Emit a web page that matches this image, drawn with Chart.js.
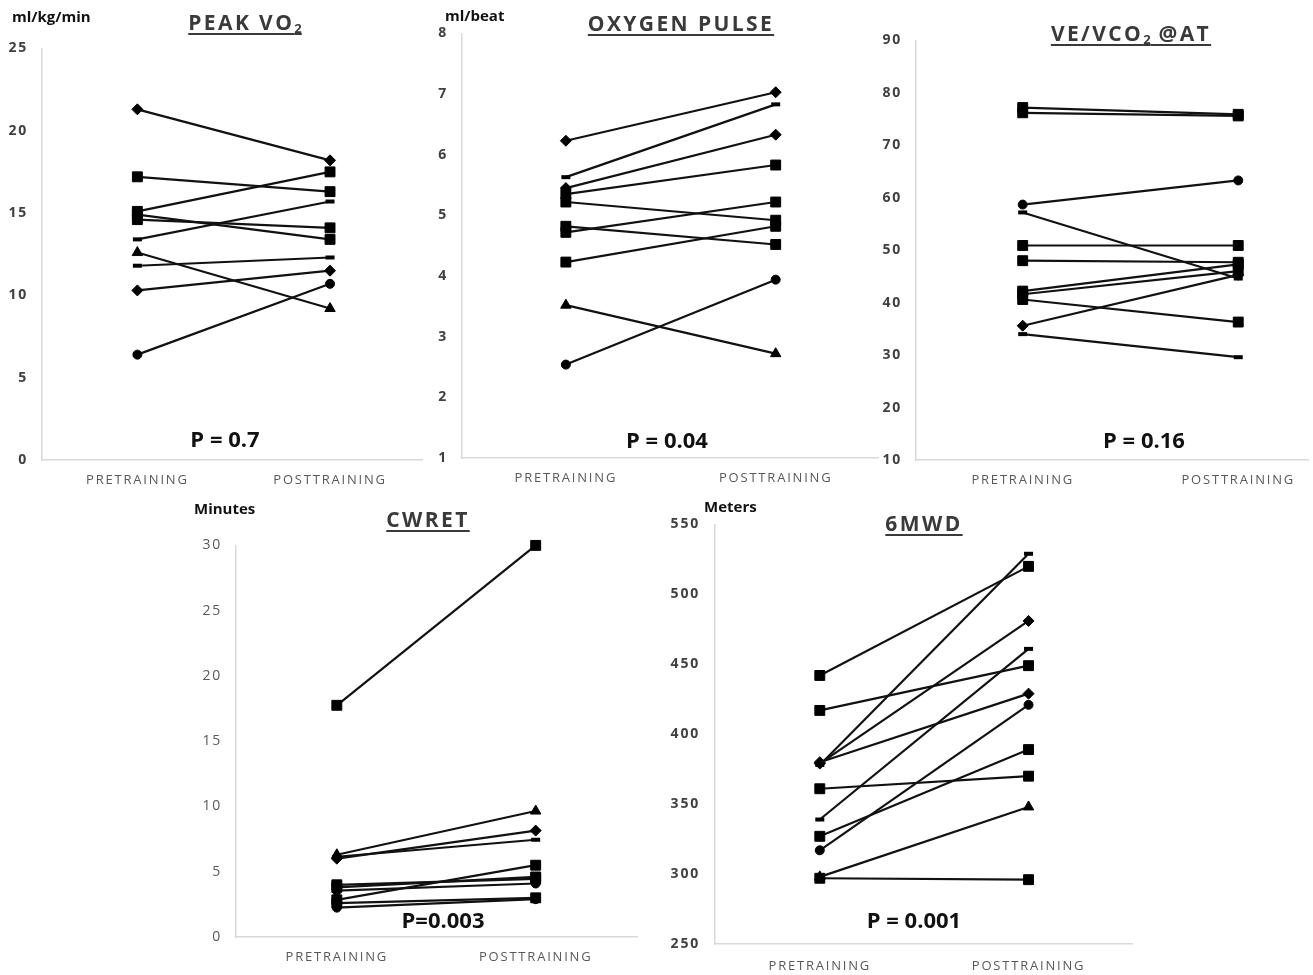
<!DOCTYPE html>
<html>
<head>
<meta charset="utf-8">
<script src="https://cdn.jsdelivr.net/npm/chart.js@4"></script>
<style>
html,body{margin:0;padding:0;background:#fff;overflow:hidden;}
body{width:1313px;height:975px;position:relative;font-family:"Open Sans",sans-serif;}
canvas{position:absolute;}
.title{position:absolute;transform:translateX(-50%);font-weight:700;font-size:21px;letter-spacing:2.4px;color:#3a3a3a;text-decoration:underline;text-decoration-thickness:2px;text-underline-offset:3px;white-space:nowrap;line-height:1;}
.title sub{font-size:13px;position:relative;top:3px;vertical-align:baseline;letter-spacing:0;}
.unit{position:absolute;font-weight:700;font-size:15px;color:#111;white-space:nowrap;line-height:1;}
.pval{position:absolute;transform:translateX(-50%);font-weight:700;font-size:22px;color:#111;white-space:nowrap;line-height:1;}
</style>
</head>
<body>
<canvas id="c1"></canvas>
<canvas id="c2"></canvas>
<canvas id="c3"></canvas>
<canvas id="c4"></canvas>
<canvas id="c5"></canvas>

<div class="title" style="left:245px;top:12px">PEAK VO<sub>2</sub></div>
<div class="title" style="left:681px;top:13px">OXYGEN PULSE</div>
<div class="title" style="left:1131px;top:23px">VE/VCO<sub>2</sub> @AT</div>
<div class="title" style="left:428px;top:509px">CWRET</div>
<div class="title" style="left:924px;top:513px">6MWD</div>

<div class="unit" style="left:12px;top:9px">ml/kg/min</div>
<div class="unit" style="left:445px;top:8px">ml/beat</div>
<div class="unit" style="left:194px;top:501px">Minutes</div>
<div class="unit" style="left:704px;top:499px">Meters</div>

<div class="pval" style="left:225px;top:427px">P = 0.7</div>
<div class="pval" style="left:667px;top:428px">P = 0.04</div>
<div class="pval" style="left:1144px;top:428px">P = 0.16</div>
<div class="pval" style="left:443px;top:908px">P=0.003</div>
<div class="pval" style="left:914px;top:908px">P = 0.001</div>

<script>
// Categories
const xLabels = ['PRETRAINING', 'POSTTRAINING'];

// Peak VO2 (ml/kg/min)
const vo2Pre   = [21.3, 17.2, 15.1, 14.9, 14.6, 13.4, 12.6, 11.8, 10.3, 6.4];
const vo2Post  = [18.2, 16.3, 17.5, 13.4, 14.1, 15.7, 9.2, 12.3, 11.5, 10.7];
const vo2Marks = ['rectRot','rect','rect','rect','rect','line','triangle','line','rectRot','circle'];
const vo2Ticks = [0, 25, 5];

// Oxygen pulse (ml/beat)
const o2Pre   = [6.23, 5.63, 5.45, 5.35, 5.22, 4.82, 4.72, 4.23, 3.52, 2.54];
const o2Post  = [7.03, 6.83, 6.33, 5.83, 4.92, 4.52, 5.22, 4.82, 2.72, 3.94];
const o2Marks = ['rectRot','line','rectRot','rect','rect','rect','rect','rect','triangle','circle'];
const o2Ticks = [1, 8, 1];

// VE/VCO2 @AT
const vePre   = [77.2, 76.2, 58.7, 57.2, 50.9, 48.0, 42.2, 41.6, 40.6, 35.6, 34.0];
const vePost  = [75.9, 75.6, 63.3, 44.6, 50.9, 47.7, 47.3, 46.0, 36.3, 45.3, 29.6];
const veMarks = ['rect','rect','circle','line','rect','rect','rect','rect','rect','rectRot','line'];
const veTicks = [10, 90, 10];

// CWRET (minutes)
const cwPre   = [17.75, 6.3, 6.0, 6.15, 4.0, 3.8, 3.55, 2.85, 2.6, 2.25];
const cwPost  = [30.0, 9.65, 8.15, 7.45, 4.45, 4.6, 4.1, 5.5, 3.0, 2.9];
const cwMarks = ['rect','triangle','rectRot','line','rect','rect','circle','rect','rect','circle'];
const cwTicks = [0, 30, 5];

// 6MWD (meters)
const mwPre   = [442, 417, 378, 379, 380, 361, 339, 327, 317, 298, 297];
const mwPost  = [520, 449, 529, 481, 429, 370, 461, 389, 421, 348, 296];
const mwMarks = ['rect','rect','line','rectRot','rectRot','rect','line','rect','circle','triangle','rect'];
const mwTicks = [250, 550, 50];

const markRadius = {rect:7, rectRot:5.5, circle:4.5, triangle:6, line:4.5};

// letter spacing for the tick labels
const spacing = {id:'spacing', beforeDraw(chart){ chart.ctx.letterSpacing = '1.8px'; }};

const yw = 60, xh = 40, padTop = 12, padRight = 4;

function build(cv, box, pre, post, marks, ticks, tickStyle){
    let datasets = pre.map((v, i) => ({
        data: [{x:0, y:v}, {x:1, y:post[i]}],
        borderColor: '#111', borderWidth: 2.2,
        pointStyle: marks[i], pointRadius: markRadius[marks[i]],
        pointBackgroundColor: '#000', pointBorderColor: '#000',
        pointBorderWidth: marks[i] === 'line' ? 4 : 1,
        clip: false
    }));
    return new Chart(cv.getContext('2d'), {
        type: 'line',
        data: {datasets},
        options: {
            responsive: false, animation: false,
            layout: {padding: {top: padTop, right: padRight, left: 0, bottom: 0}},
            plugins: {legend: {display: false}, tooltip: {enabled: false}},
            scales: {
                x: {
                    type: 'linear', min: box.xmin, max: box.xmax,
                    grid: {display: false, drawTicks: false},
                    border: {color: '#d9d9d9', width: 1.5},
                    afterBuildTicks: s => { s.ticks = [{value: 0}, {value: 1}]; },
                    afterFit: s => { s.height = xh; },
                    ticks: {callback: v => xLabels[v], color: '#595959', font: {family: 'Open Sans', size: 13}, padding: box.xpad, maxRotation: 0, autoSkip: false}
                },
                y: {
                    min: ticks[0], max: ticks[1],
                    grid: {display: false, drawTicks: false},
                    border: {color: '#d9d9d9', width: 1.5},
                    afterFit: s => { s.width = yw; },
                    ticks: {stepSize: ticks[2], color: tickStyle.color, font: {family: 'Open Sans', size: 14, weight: tickStyle.weight}, padding: box.tpad}
                }
            }
        },
        plugins: [spacing]
    });
}

function panel(id, box, pre, post, marks, ticks, tickStyle){
    let cv = document.getElementById(id);
    let w = box.right - box.left + yw + padRight;
    let h = box.bottom - box.top + padTop + xh;
    cv.width = w; cv.height = h;
    cv.style.left = (box.left - yw) + 'px';
    cv.style.top = (box.top - padTop) + 'px';
    let chart = build(cv, box, pre, post, marks, ticks, tickStyle);
    // the layout may push the plot top down; grow the canvas to compensate
    let extra = Math.round(chart.chartArea.top - padTop);
    if (extra > 0) {
        chart.destroy();
        cv.width = w; cv.height = h + extra;
        cv.style.top = (box.top - padTop - extra) + 'px';
        chart = build(cv, box, pre, post, marks, ticks, tickStyle);
    }
    return chart;
}

const boldTicks = {color: '#404040', weight: 'bold'};
const thinTicks = {color: '#595959', weight: 'normal'};

panel('c1', {left:42, right:427, top:48, bottom:460, xmin:-0.495, xmax:1.48, tpad:14, xpad:12}, vo2Pre, vo2Post, vo2Marks, vo2Ticks, boldTicks);
panel('c2', {left:462, right:883, top:33, bottom:458, xmin:-0.495, xmax:1.49, tpad:14, xpad:12}, o2Pre, o2Post, o2Marks, o2Ticks, boldTicks);
panel('c3', {left:916, right:1313, top:40, bottom:460, xmin:-0.495, xmax:1.326, tpad:14, xpad:12}, vePre, vePost, veMarks, veTicks, boldTicks);
panel('c4', {left:236, right:642, top:545, bottom:937, xmin:-0.507, xmax:1.512, tpad:14, xpad:12}, cwPre, cwPost, cwMarks, cwTicks, thinTicks);
panel('c5', {left:715, right:1137, top:524, bottom:944, xmin:-0.502, xmax:1.498, tpad:15, xpad:14}, mwPre, mwPost, mwMarks, mwTicks, boldTicks);
</script>
</body>
</html>
